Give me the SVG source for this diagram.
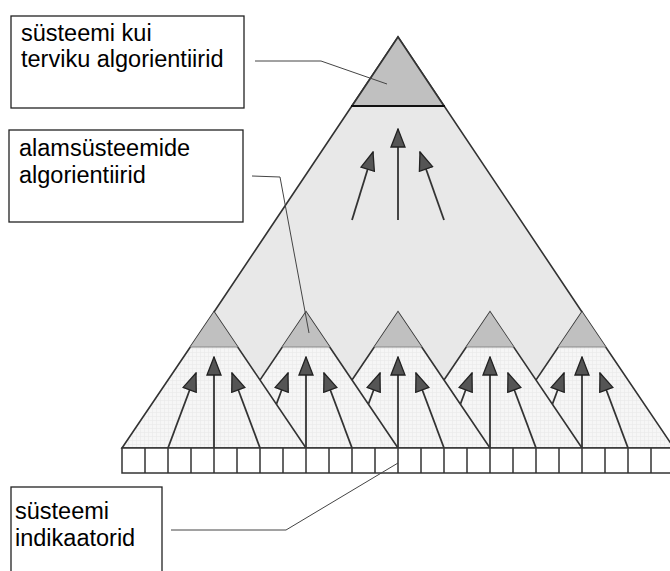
<svg xmlns="http://www.w3.org/2000/svg" width="670" height="571" viewBox="0 0 670 571">
<style>
.box{fill:#fff;stroke:#222;stroke-width:1.3}
.lbl{font-family:"Liberation Sans",Arial,sans-serif;font-size:23.5px;fill:#000}
.tri{stroke:#333;stroke-width:1.6;stroke-linejoin:miter}
.cap{fill:#c0c0c0;stroke:none}
.arr{stroke:#333;stroke-width:1.8;fill:none;marker-end:url(#ah)}
.lead{stroke:#444;stroke-width:1;fill:none}
.cell{fill:#fff;stroke:#333;stroke-width:1.5}
</style>
<defs>
<pattern id="grid" width="4" height="4" patternUnits="userSpaceOnUse">
<rect width="4" height="4" fill="#f6f6f6"/>
<path d="M0,0.5H4M0.5,0V4" stroke="#e9e9e9" stroke-width="0.6"/>
</pattern>
<marker id="ah" markerUnits="userSpaceOnUse" viewBox="0 0 20 16" refX="19" refY="8" markerWidth="20" markerHeight="16" orient="auto">
<path d="M1,1 L19,8 L1,15 z" fill="#555" stroke="#222" stroke-width="1.3" stroke-linejoin="miter"/>
</marker>
</defs>
<rect width="670" height="571" fill="#fff"/>

<g id="big-triangle">
<polygon points="398,37 214,312 122,448 674,448 582,312" fill="#e8e8e8" stroke="none"/>
<polyline points="214,312 398,37 582,312" fill="none" stroke="#333" stroke-width="1.6"/>
<polygon points="398,37 352,106 444,106" class="cap"/>
<polyline points="352,106 398,37 444,106" fill="none" stroke="#333" stroke-width="1.6"/>
<line x1="351" y1="106" x2="445" y2="106" stroke="#111" stroke-width="2.2"/>
<line x1="352" y1="220" x2="373" y2="152" class="arr"/>
<line x1="398" y1="220" x2="398" y2="129" class="arr"/>
<line x1="444" y1="220" x2="420" y2="152" class="arr"/>
</g>

<g id="sub5">
<polygon points="582,312 490,448 674,448" fill="url(#grid)" class="tri"/>
<polygon points="582,312 558.3,347 605.7,347" class="cap"/>
<line x1="558.3" y1="347" x2="605.7" y2="347" stroke="#888" stroke-width="1"/>
<line x1="536" y1="448" x2="564" y2="373" class="arr"/>
<line x1="582" y1="448" x2="582" y2="357" class="arr"/>
<line x1="628" y1="448" x2="600" y2="373" class="arr"/>
</g>
<g id="sub4">
<polygon points="490,312 398,448 582,448" fill="url(#grid)" class="tri"/>
<polygon points="490,312 466.3,347 513.7,347" class="cap"/>
<line x1="466.3" y1="347" x2="513.7" y2="347" stroke="#888" stroke-width="1"/>
<line x1="444" y1="448" x2="472" y2="373" class="arr"/>
<line x1="490" y1="448" x2="490" y2="357" class="arr"/>
<line x1="536" y1="448" x2="508" y2="373" class="arr"/>
</g>
<g id="sub3">
<polygon points="398,312 306,448 490,448" fill="url(#grid)" class="tri"/>
<polygon points="398,312 374.3,347 421.7,347" class="cap"/>
<line x1="374.3" y1="347" x2="421.7" y2="347" stroke="#888" stroke-width="1"/>
<line x1="352" y1="448" x2="380" y2="373" class="arr"/>
<line x1="398" y1="448" x2="398" y2="357" class="arr"/>
<line x1="444" y1="448" x2="416" y2="373" class="arr"/>
</g>
<g id="sub2">
<polygon points="306,312 214,448 398,448" fill="url(#grid)" class="tri"/>
<polygon points="306,312 282.3,347 329.7,347" class="cap"/>
<line x1="282.3" y1="347" x2="329.7" y2="347" stroke="#888" stroke-width="1"/>
<line x1="260" y1="448" x2="288" y2="373" class="arr"/>
<line x1="306" y1="448" x2="306" y2="357" class="arr"/>
<line x1="352" y1="448" x2="324" y2="373" class="arr"/>
</g>
<g id="sub1">
<polygon points="214,312 122,448 306,448" fill="url(#grid)" class="tri"/>
<polygon points="214,312 190.3,347 237.7,347" class="cap"/>
<line x1="190.3" y1="347" x2="237.7" y2="347" stroke="#888" stroke-width="1"/>
<line x1="168" y1="448" x2="196" y2="373" class="arr"/>
<line x1="214" y1="448" x2="214" y2="357" class="arr"/>
<line x1="260" y1="448" x2="232" y2="373" class="arr"/>
</g>

<g id="indicators">
<rect x="122" y="448" width="560" height="25" class="cell"/>
<path d="M145,448V473M168,448V473M191,448V473M214,448V473M237,448V473M260,448V473M283,448V473M306,448V473M329,448V473M352,448V473M375,448V473M398,448V473M421,448V473M444,448V473M467,448V473M490,448V473M513,448V473M536,448V473M559,448V473M582,448V473M605,448V473M628,448V473M651,448V473" stroke="#333" stroke-width="1.5" fill="none"/>
</g>

<g id="label-whole">
<rect x="11" y="16" width="233" height="92" class="box"/>
<text class="lbl" x="21" y="41">süsteemi kui</text>
<text class="lbl" x="21" y="67">terviku algorientiirid</text>
</g>
<g id="label-sub">
<rect x="9" y="130" width="234" height="92" class="box"/>
<text class="lbl" x="19" y="156">alamsüsteemide</text>
<text class="lbl" x="19" y="183">algorientiirid</text>
</g>
<g id="label-ind">
<rect x="11" y="487" width="151" height="100" class="box"/>
<text class="lbl" x="15" y="519">süsteemi</text>
<text class="lbl" x="15" y="546">indikaatorid</text>
</g>

<g id="connectors">
<polyline points="255,61 321,61 387,84" class="lead"/>
<polyline points="252,176 280,177 309,333" class="lead"/>
<polyline points="171,530 286,530 398,463" class="lead"/>
</g>
</svg>
